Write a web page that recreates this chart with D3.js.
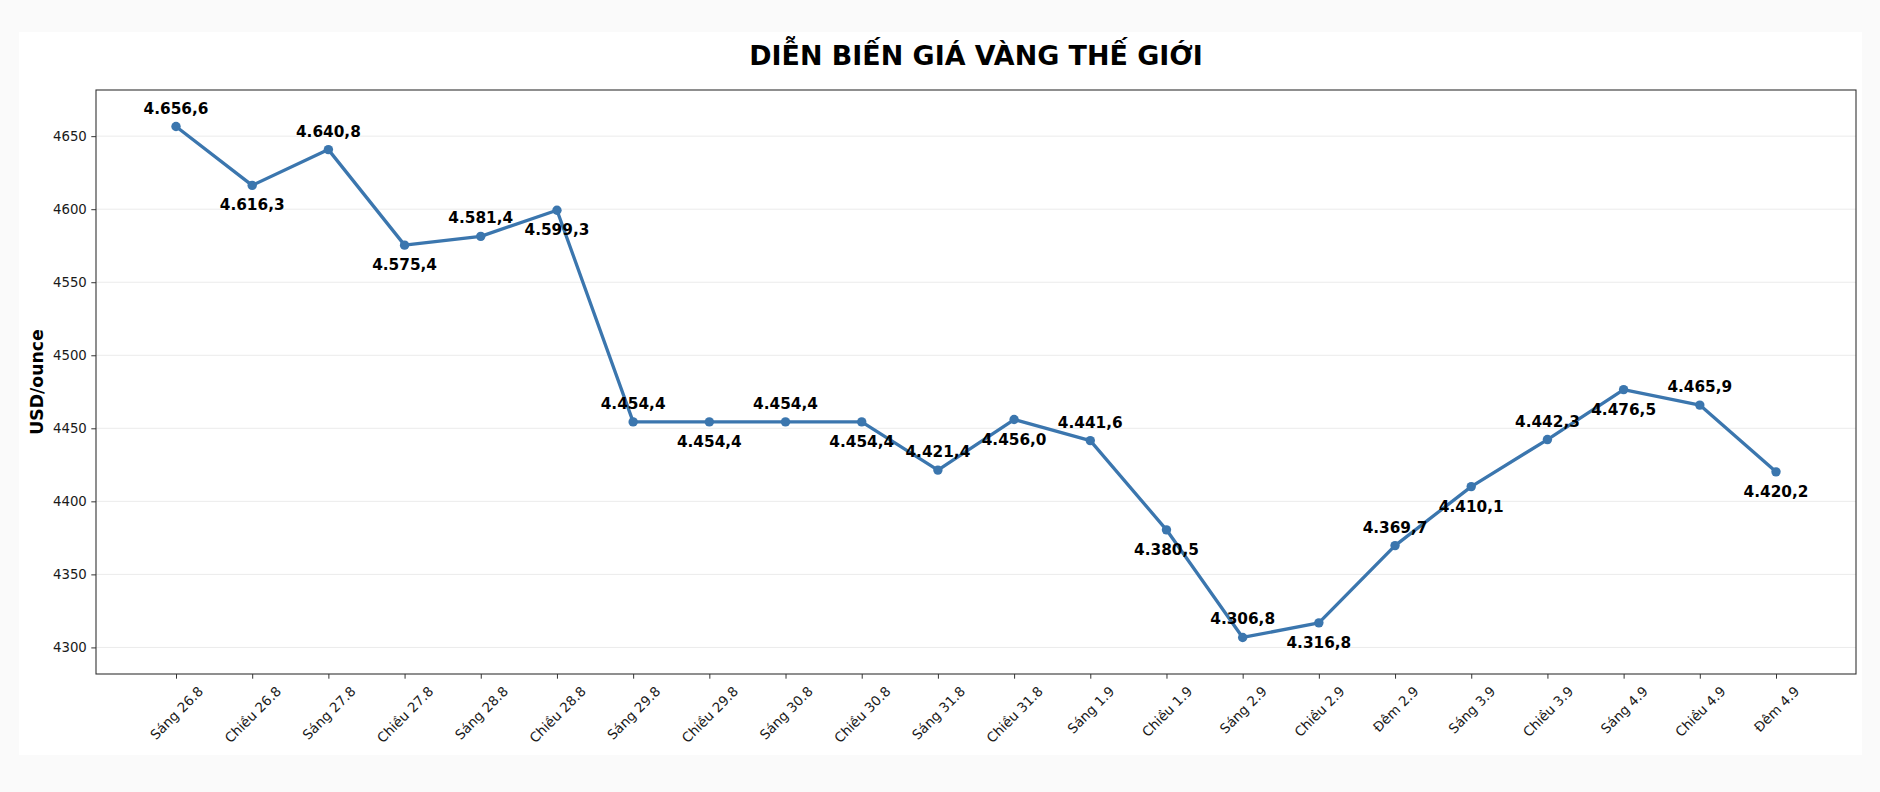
<!DOCTYPE html>
<html>
<head>
<meta charset="utf-8">
<script src="https://cdn.jsdelivr.net/npm/d3@7"></script>
<style>
  html, body { margin: 0; padding: 0; background: #fafafa; }
  svg { display: block; }
</style>
</head>
<body>
<svg id="chart" width="1880" height="792"></svg>
<script>
const categories = ["Sáng 26.8","Chiều 26.8","Sáng 27.8","Chiều 27.8","Sáng 28.8","Chiều 28.8","Sáng 29.8","Chiều 29.8","Sáng 30.8","Chiều 30.8","Sáng 31.8","Chiều 31.8","Sáng 1.9","Chiều 1.9","Sáng 2.9","Chiều 2.9","Đêm 2.9","Sáng 3.9","Chiều 3.9","Sáng 4.9","Chiều 4.9","Đêm 4.9"];
const prices = [4656.6,4616.3,4640.8,4575.4,4581.4,4599.3,4454.4,4454.4,4454.4,4454.4,4421.4,4456.0,4441.6,4380.5,4306.8,4316.8,4369.7,4410.1,4442.3,4476.5,4465.9,4420.2];
const yTicks = [4300,4350,4400,4450,4500,4550,4600,4650];
const title = "DIỄN BIẾN GIÁ VÀNG THẾ GIỚI";
const yLabel = "USD/ounce";

const svg = d3.select("#chart");
const W = 1880, H = 792;
const plot = {left: 96, right: 1856, top: 90, bottom: 674};
const font = "'DejaVu Sans', sans-serif";
const lineColor = "#3b76ae";

// background card
svg.append("rect").attr("x", 0).attr("y", 0).attr("width", W).attr("height", H).attr("fill", "#fafafa");
svg.append("rect").attr("x", 19).attr("y", 32).attr("width", 1843).attr("height", 723).attr("fill", "#ffffff");

const yMin = d3.min(prices) - 25, yMax = d3.max(prices) + 25;
const n = categories.length;
const x = d3.scaleLinear().domain([-0.05 * (n - 1), (n - 1) * 1.05]).range([plot.left, plot.right]);
const y = d3.scaleLinear().domain([yMin, yMax]).range([plot.bottom, plot.top]);

// grid
svg.append("g").selectAll("line").data(yTicks).join("line")
  .attr("x1", plot.left).attr("x2", plot.right)
  .attr("y1", d => y(d)).attr("y2", d => y(d))
  .attr("stroke", "#ebebeb").attr("stroke-width", 1);

// y axis
const yAxis = d3.axisLeft(y).tickValues(yTicks).tickSize(4.7).tickPadding(4.5).tickFormat(d3.format("d"));
const gy = svg.append("g").attr("transform", `translate(${plot.left},0)`).call(yAxis);
gy.select(".domain").remove();
gy.selectAll("line").attr("stroke", "#333");
gy.selectAll("text").attr("font-family", font).attr("font-size", 13.3).attr("fill", "#1a1a1a");

// x axis
const xAxis = d3.axisBottom(x).tickValues(d3.range(n)).tickSize(4.7).tickFormat(i => categories[i]);
const gx = svg.append("g").attr("transform", `translate(0,${plot.bottom})`).call(xAxis);
gx.select(".domain").remove();
gx.selectAll("line").attr("stroke", "#333");
gx.selectAll("text")
  .attr("font-family", font).attr("font-size", 13.5).attr("fill", "#1a1a1a")
  .attr("text-anchor", "middle").attr("dy", null).attr("y", 0)
  .attr("dominant-baseline", "central")
  .each(function() {
    const L = this.getComputedTextLength();
    const h = 13.5 * 1.1;
    const bh = (L + h) * Math.SQRT1_2;
    d3.select(this).attr("transform", `translate(0,${4.7 + 4.7 + bh / 2}) rotate(-45)`);
  });

// frame
svg.append("rect").attr("x", plot.left).attr("y", plot.top)
  .attr("width", plot.right - plot.left).attr("height", plot.bottom - plot.top)
  .attr("fill", "none").attr("stroke", "#333").attr("stroke-width", 1.1);

// line
const line = d3.line().x((d, i) => x(i)).y(d => y(d));
svg.append("path").datum(prices).attr("d", line)
  .attr("fill", "none").attr("stroke", lineColor).attr("stroke-width", 3.3)
  .attr("stroke-linejoin", "round");

svg.append("g").selectAll("circle").data(prices).join("circle")
  .attr("cx", (d, i) => x(i)).attr("cy", d => y(d)).attr("r", 4.7)
  .attr("fill", lineColor);

// value labels
const fmt = v => {
  const s = v.toFixed(1).split(".");
  const intPart = s[0].replace(/\B(?=(\d{3})+(?!\d))/g, ".");
  return intPart + "," + s[1];
};
svg.append("g").selectAll("text").data(prices).join("text")
  .attr("x", (d, i) => x(i))
  .attr("y", (d, i) => y(d) + (i % 2 === 0 ? -13 : 25))
  .attr("text-anchor", "middle")
  .attr("font-family", font).attr("font-weight", "bold").attr("font-size", 15.3)
  .attr("fill", "#000")
  .text(d => fmt(d));

// title
svg.append("text").attr("x", 976).attr("y", 65)
  .attr("text-anchor", "middle").attr("font-family", font)
  .attr("font-weight", "bold").attr("font-size", 26.9).attr("fill", "#000")
  .text(title);

// y label
svg.append("text").attr("transform", `translate(43,${(plot.top + plot.bottom) / 2}) rotate(-90)`)
  .attr("text-anchor", "middle").attr("font-family", font)
  .attr("font-weight", "bold").attr("font-size", 17.3).attr("fill", "#000")
  .text(yLabel);
</script>
</body>
</html>
